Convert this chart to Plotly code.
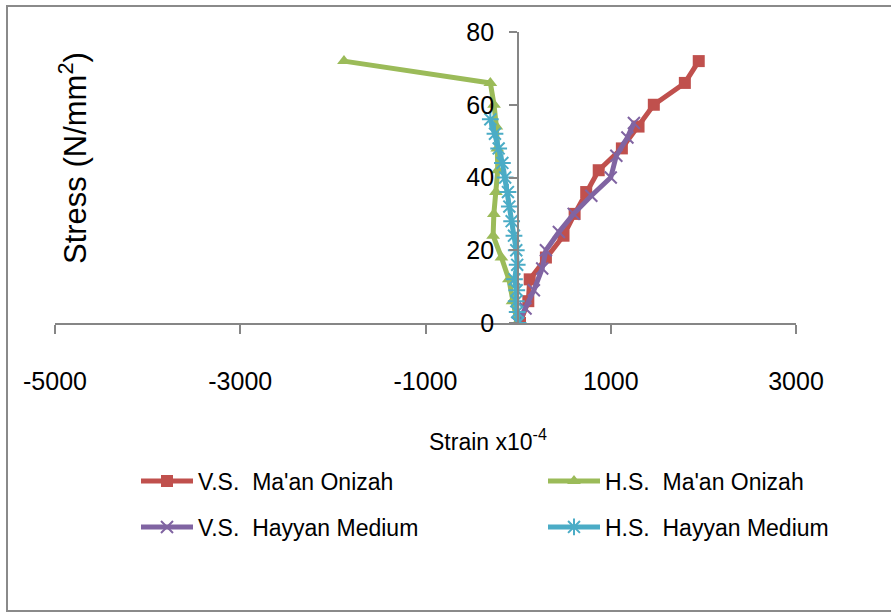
import plotly.graph_objects as go

# ---- data ----
vs_maan_strain = [20, 110, 125, 300, 490, 610, 735, 870, 1120, 1300, 1465, 1800, 1950]
vs_maan_stress = [0, 6, 12, 18, 24, 30, 36, 42, 48, 54, 60, 66, 72]

hs_maan_strain = [-10, -60, -100, -180, -270, -262, -240, -220, -225, -235, -260, -300, -1880]
hs_maan_stress = [0, 6, 12, 18, 24, 30, 36, 42, 48, 54, 60, 66, 72]

vs_hayyan_strain = [0, 80, 170, 260, 300, 440, 600, 790, 1000, 1060, 1180, 1250]
vs_hayyan_stress = [0, 4, 9, 15, 20, 25, 30, 35, 40, 46, 51, 55]

hs_hayyan_strain = [0, -10, -20, -15, -40, -10, -20, -45, -70, -95, -110, -140, -170, -210, -250, -300]
hs_hayyan_stress = [0, 3, 6, 9, 12, 16, 20, 24, 28, 32, 36, 40, 44, 48, 52, 56]

x_ticks = [-5000, -3000, -1000, 1000, 3000]
y_ticks = [0, 20, 40, 60, 80]

# ---- layout geometry (pixels) ----
W, H = 891, 612
L, R, T, B = 55, 95, 32, 289
PW, PH = W - L - R, H - T - B

def px_x(p):
    return (p - L) / PW

def px_y(p):
    return (H - B - p) / PH

FONT = "Liberation Sans Narrow, Arial Narrow, Liberation Sans, Arial, sans-serif"
ARIAL = "Liberation Sans, Arial, sans-serif"
LEG_FONT = dict(family=FONT, size=23, color="black")

fig = go.Figure()

fig.add_trace(go.Scatter(
    x=vs_maan_strain, y=vs_maan_stress, mode="lines+markers",
    name="V.S.  Ma'an Onizah", legend="legend",
    line=dict(color="#C0504D", width=5),
    marker=dict(symbol="square", size=12, color="#C0504D"),
))
fig.add_trace(go.Scatter(
    x=hs_maan_strain, y=hs_maan_stress, mode="lines+markers",
    name="H.S.  Ma'an Onizah", legend="legend2",
    line=dict(color="#9BBB59", width=5),
    marker=dict(symbol="triangle-up", size=12, color="#9BBB59"),
))
fig.add_trace(go.Scatter(
    x=vs_hayyan_strain, y=vs_hayyan_stress, mode="lines+markers",
    name="V.S.  Hayyan Medium", legend="legend3",
    line=dict(color="#8064A2", width=5),
    marker=dict(symbol="x-thin", size=12, color="#8064A2",
                line=dict(color="#8064A2", width=2)),
))
fig.add_trace(go.Scatter(
    x=hs_hayyan_strain, y=hs_hayyan_stress, mode="lines+markers",
    name="H.S.  Hayyan Medium", legend="legend4",
    line=dict(color="#4BACC6", width=5),
    marker=dict(symbol="asterisk", size=14, color="#4BACC6",
                line=dict(color="#4BACC6", width=2)),
))

def leg(xp, yp):
    return dict(x=px_x(xp), y=px_y(yp), xanchor="left", yanchor="middle",
                font=LEG_FONT, bgcolor="rgba(0,0,0,0)", borderwidth=0,
                itemwidth=52)

fig.update_layout(
    width=W, height=H,
    margin=dict(l=L, r=R, t=T, b=B, pad=0, autoexpand=False),
    paper_bgcolor="white", plot_bgcolor="white",
    font=dict(family=FONT, size=24, color="black"),
    showlegend=True,
    legend=leg(136, 481),
    legend2=leg(543, 481),
    legend3=leg(136, 527),
    legend4=leg(543, 527),
    xaxis=dict(
        range=[-5000, 3000], tickvals=x_ticks, ticktext=[str(v) for v in x_ticks],
        showgrid=False, zeroline=False, showline=True, linecolor="#868686", linewidth=2,
        ticks="outside", ticklen=9, tickwidth=2, tickcolor="#868686",
        tickfont=dict(family=FONT, size=25), ticklabelstandoff=26,
    ),
    yaxis=dict(
        range=[0, 80], tickvals=y_ticks, showgrid=False, zeroline=False,
        anchor="free", position=5000 / 8000,
        showline=True, linecolor="#868686", linewidth=2,
        ticks="outside", ticklen=8, tickwidth=2, tickcolor="#868686",
        tickfont=dict(family=FONT, size=25), ticklabelstandoff=10,
    ),
    annotations=[
        dict(text="Stress (N/mm<sup>2</sup>)", textangle=-90, x=px_x(73), y=px_y(158),
             xref="paper", yref="paper", xanchor="center", yanchor="middle",
             showarrow=False, font=dict(family=ARIAL, size=31, color="black")),
        dict(text="Strain x10<sup>-4</sup>", x=px_x(488), y=px_y(440),
             xref="paper", yref="paper", xanchor="center", yanchor="middle",
             showarrow=False, font=dict(family=FONT, size=23, color="black")),
    ],
    shapes=[
        dict(type="rect", xref="paper", yref="paper",
             x0=px_x(7), x1=px_x(900), y0=px_y(611), y1=px_y(6),
             line=dict(color="#8a8a8a", width=2), fillcolor="rgba(0,0,0,0)", layer="below"),
    ],
)

fig.write_html("out.html")
